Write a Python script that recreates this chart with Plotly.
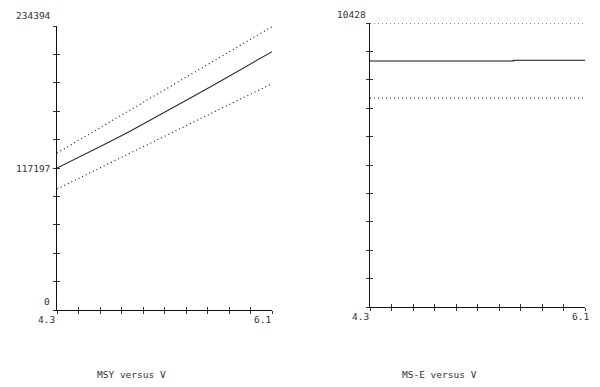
import plotly.graph_objects as go

# ---------------- data ----------------
v_grid = [4.3, 4.5, 4.7, 4.9, 5.1, 5.3, 5.5, 5.7, 5.9, 6.1]

msy_mid = [117197, 126688, 136758, 146909, 157638, 168367, 179592, 190651, 201958, 213183]
msy_upper = [129577, 141214, 152851, 164571, 176208, 187763, 199400, 211120, 222757, 233800]
msy_lower = [99865, 109522, 119178, 128835, 138491, 148147, 157804, 167542, 177116, 186855]

mse_mid = [9033, 9033, 9033, 9033, 9033, 9033, 9058, 9058, 9058, 9058]
mse_upper = [10428] * 10
mse_lower = [7674] * 10

msy_max = 234394
mse_max = 10428
v_min, v_max = 4.3, 6.1
y_labels_left = ["234394", "117197", "0"]
y_labels_right = ["10428"]
x_labels = ["4.3", "6.1"]
titles = ["MSY versus V", "MS-E versus V"]

# ---------------- figure ----------------
W, H = 600, 387
FONT = dict(family="DejaVu Sans Mono", size=9.5, color="#333333")

def px_x(a, b):
    return [a / W, b / W]

def px_y(top, bottom):
    return [(H - bottom) / H, (H - top) / H]

dom_x1 = px_x(57, 272)
dom_y1 = px_y(26, 310)
dom_x2 = px_x(370, 585)
dom_y2 = px_y(23, 307)

xticks = [v_min + k * (v_max - v_min) / 10 for k in range(11)]
yticks1 = [k * msy_max / 10 for k in range(11)]
yticks2 = [k * mse_max / 10 for k in range(11)]

fig = go.Figure()

dotted = dict(color="#222222", width=1.2, dash="1px,3px")
solid = dict(color="#2a2a2a", width=1.1)

fig.add_trace(go.Scatter(x=v_grid, y=msy_upper, mode="lines", line=dotted, xaxis="x", yaxis="y"))
fig.add_trace(go.Scatter(x=v_grid, y=msy_mid, mode="lines", line=solid, xaxis="x", yaxis="y"))
fig.add_trace(go.Scatter(x=v_grid, y=msy_lower, mode="lines", line=dotted, xaxis="x", yaxis="y"))

fig.add_trace(go.Scatter(x=v_grid, y=mse_upper, mode="lines", line=dotted, xaxis="x2", yaxis="y2", cliponaxis=False))
fig.add_trace(go.Scatter(x=v_grid, y=mse_mid, mode="lines", line=dict(color="#111111", width=1.1, shape="hv"), xaxis="x2", yaxis="y2"))
fig.add_trace(go.Scatter(x=v_grid, y=mse_lower, mode="lines", line=dotted, xaxis="x2", yaxis="y2"))

# invisible traces for overlay (inside-tick) axes
fig.add_trace(go.Scatter(x=[v_min], y=[0], mode="none", xaxis="x3", yaxis="y3", hoverinfo="skip"))
fig.add_trace(go.Scatter(x=[v_min], y=[0], mode="none", xaxis="x4", yaxis="y4", hoverinfo="skip"))

def xax(domain, anchor, ticks, showline, overlaying=None):
    d = dict(domain=domain, range=[v_min, v_max], anchor=anchor, showgrid=False, zeroline=False,
             showline=showline, linecolor="#111111", linewidth=1.2,
             tickmode="array", tickvals=xticks, ticks=ticks, ticklen=3, tickwidth=1,
             tickcolor="#333333", showticklabels=False, fixedrange=True)
    if overlaying:
        d["overlaying"] = overlaying
    return d

def yax(domain, anchor, rng, tv, ticks, showline, overlaying=None):
    d = dict(domain=domain, range=rng, anchor=anchor, showgrid=False, zeroline=False,
             showline=showline, linecolor="#111111", linewidth=1.2,
             tickmode="array", tickvals=tv, ticks=ticks, ticklen=3, tickwidth=1,
             tickcolor="#333333", showticklabels=False, fixedrange=True)
    if overlaying:
        d["overlaying"] = overlaying
    return d

fig.update_layout(
    width=W, height=H,
    margin=dict(l=0, r=0, t=0, b=0),
    paper_bgcolor="white", plot_bgcolor="white",
    showlegend=False,
    xaxis=xax(dom_x1, "y", "outside", True),
    yaxis=yax(dom_y1, "x", [0, msy_max], yticks1, "outside", True),
    xaxis2=xax(dom_x2, "y2", "outside", True),
    yaxis2=yax(dom_y2, "x2", [0, mse_max], yticks2, "outside", True),
    xaxis3=xax(dom_x1, "y3", "inside", False, overlaying="x"),
    yaxis3=yax(dom_y1, "x3", [0, msy_max], yticks1, "inside", False, overlaying="y"),
    xaxis4=xax(dom_x2, "y4", "inside", False, overlaying="x2"),
    yaxis4=yax(dom_y2, "x4", [0, mse_max], yticks2, "inside", False, overlaying="y2"),
)

ann = []
# left panel labels
ann.append(dict(x=v_min, y=msy_max, xref="x", yref="y", text=y_labels_left[0], showarrow=False,
                xanchor="right", yanchor="bottom", xshift=-4, yshift=3))
ann.append(dict(x=v_min, y=msy_max / 2, xref="x", yref="y", text=y_labels_left[1], showarrow=False,
                xanchor="right", yanchor="middle", xshift=-5))
ann.append(dict(x=v_min, y=0, xref="x", yref="y", text=y_labels_left[2], showarrow=False,
                xanchor="right", yanchor="bottom", xshift=-5, yshift=1))
ann.append(dict(x=v_min, y=0, xref="x", yref="y", text=x_labels[0], showarrow=False,
                xanchor="right", yanchor="top", xshift=0, yshift=-2))
ann.append(dict(x=v_max, y=0, xref="x", yref="y", text=x_labels[1], showarrow=False,
                xanchor="right", yanchor="top", xshift=1, yshift=-2))
# right panel labels
ann.append(dict(x=v_min, y=mse_max, xref="x2", yref="y2", text=y_labels_right[0], showarrow=False,
                xanchor="right", yanchor="bottom", xshift=-2, yshift=1))
ann.append(dict(x=v_min, y=0, xref="x2", yref="y2", text=x_labels[0], showarrow=False,
                xanchor="center", yanchor="top", xshift=-10, yshift=-2))
ann.append(dict(x=v_max, y=0, xref="x2", yref="y2", text=x_labels[1], showarrow=False,
                xanchor="center", yanchor="top", xshift=-5, yshift=-2))
# titles
ann.append(dict(x=131 / W, y=(H - 374) / H, xref="paper", yref="paper", text=titles[0],
                showarrow=False, xanchor="center", yanchor="middle"))
ann.append(dict(x=440 / W, y=(H - 374) / H, xref="paper", yref="paper", text=titles[1],
                showarrow=False, xanchor="center", yanchor="middle"))

for a in ann:
    a["font"] = FONT
fig.update_layout(annotations=ann)

fig.write_html("out.html")
